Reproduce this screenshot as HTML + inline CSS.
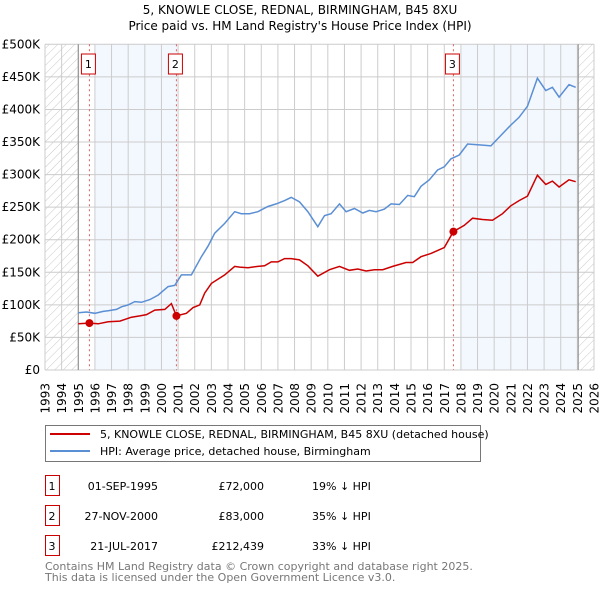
<!DOCTYPE html>
<html><head><meta charset="utf-8"><style>
body{margin:0;background:#fff;font-family:"DejaVu Sans","Liberation Sans",sans-serif;}
svg text{font-family:"DejaVu Sans","Liberation Sans",sans-serif;}
</style></head><body>
<svg id="chart" width="600" height="590" xmlns="http://www.w3.org/2000/svg">
<defs><pattern id="hatch" width="6" height="6" patternUnits="userSpaceOnUse" patternTransform="rotate(45)"><line x1="0" y1="0" x2="0" y2="6" stroke="#bbb" stroke-width="0.8"/></pattern></defs>
<text x="300" y="14" text-anchor="middle" font-size="12">5, KNOWLE CLOSE, REDNAL, BIRMINGHAM, B45 8XU</text>
<text x="300" y="30" text-anchor="middle" font-size="12">Price paid vs. HM Land Registry's House Price Index (HPI)</text>
<g id="grid"></g><g id="series"></g><g id="axes"></g>
<g>
<rect x="45.5" y="425.5" width="435" height="36" fill="#fff" stroke="#777"/>
<line x1="50" y1="434" x2="90" y2="434" stroke="#cc0000" stroke-width="2"/>
<text x="100" y="438" font-size="11">5, KNOWLE CLOSE, REDNAL, BIRMINGHAM, B45 8XU (detached house)</text>
<line x1="50" y1="451" x2="90" y2="451" stroke="#5b8fd4" stroke-width="2"/>
<text x="100" y="455" font-size="11">HPI: Average price, detached house, Birmingham</text>
</g>
<g id="table" font-size="11"></g>
<text fill="#777" font-size="11"><tspan x="45" y="570">Contains HM Land Registry data © Crown copyright and database right 2025.</tspan><tspan x="45" y="581">This data is licensed under the Open Government Licence v3.0.</tspan></text>
</svg>
<script>
const hpiYears=[1995,1995.5,1996,1996.5,1996.8,1997.3,1997.6,1998,1998.4,1998.8,1999.3,1999.8,2000.4,2000.8,2001.2,2001.8,2002.4,2002.8,2003.2,2003.8,2004.4,2004.8,2005.3,2005.8,2006.4,2006.9,2007.4,2007.8,2008.3,2008.8,2009.4,2009.8,2010.2,2010.7,2011.1,2011.6,2012.1,2012.5,2012.9,2013.4,2013.8,2014.3,2014.8,2015.2,2015.6,2016.1,2016.6,2017.0,2017.4,2017.9,2018.4,2018.9,2019.4,2019.8,2020.4,2021.0,2021.5,2022.0,2022.6,2023.1,2023.5,2023.9,2024.5,2024.9];
const hpiValues=[88,89,87,90,91,93,97,100,105,104,108,115,128,130,146,146,174,190,210,225,243,240,240,243,251,255,260,265,258,243,220,237,240,255,243,248,241,245,243,247,255,254,268,266,282,292,307,312,324,330,347,346,345,344,360,376,388,405,448,429,434,419,438,434];
const ppYears=[1995,1995.67,1996.2,1996.8,1997.5,1998.2,1998.7,1999.1,1999.6,2000.2,2000.6,2000.9,2001.5,2001.9,2002.3,2002.6,2003.0,2003.8,2004.4,2004.7,2005.2,2005.8,2006.2,2006.6,2007.0,2007.4,2007.8,2008.3,2008.8,2009.4,2010.1,2010.7,2011.3,2011.8,2012.3,2012.8,2013.3,2013.9,2014.7,2015.1,2015.6,2016.2,2017.0,2017.55,2018.2,2018.7,2019.3,2019.9,2020.5,2021.0,2021.5,2022.0,2022.6,2023.1,2023.5,2023.9,2024.5,2024.9];
const ppValues=[71,72,71,74,75,81,83,85,92,93,102,83,87,96,100,118,133,146,159,158,157,159,160,166,166,171,171,169,160,144,154,159,153,155,152,154,154,159,165,165,174,179,188,212.4,222,233,231,230,240,252,260,267,299,285,290,281,292,289];
const yTicks=[0,50,100,150,200,250,300,350,400,450,500];
const yTickLabels=["£0","£50K","£100K","£150K","£200K","£250K","£300K","£350K","£400K","£450K","£500K"];
const saleYears=[1995.67,2000.9,2017.55];
const saleValues=[72,83,212.439];
const saleLabels=["1","2","3"];
const saleDates=["01-SEP-1995","27-NOV-2000","21-JUL-2017"];
const salePrices=["£72,000","£83,000","£212,439"];
const saleDiffs=["19% ↓ HPI","35% ↓ HPI","33% ↓ HPI"];
const X0=45,X1=594,Y0=370,Y1=44.3;
const xs=y=>X0+(y-1993)/(2026-1993)*(X1-X0);
const ys=v=>Y0-(v/500)*(Y0-Y1);
const NS="http://www.w3.org/2000/svg";
function mk(parent,tag,attrs){const e=document.createElementNS(NS,tag);for(const k in attrs)e.setAttribute(k,attrs[k]);document.getElementById(parent).appendChild(e);return e;}
let b=mk('grid','rect',{x:xs(1996),y:Y1,width:xs(2001)-xs(1996),height:Y0-Y1,fill:'#eef3fd',opacity:0.7});


b=mk('grid','rect',{x:xs(2018),y:Y1,width:xs(2025)-xs(2018),height:Y0-Y1,fill:'#eef3fd',opacity:0.7});


b=mk('grid','rect',{x:X0,y:Y1,width:xs(1995)-X0,height:Y0-Y1,fill:'url(#hatch)'});


b=mk('grid','rect',{x:xs(2025.05),y:Y1,width:X1-xs(2025.05),height:Y0-Y1,fill:'url(#hatch)'});


for(let yr=1993;yr<=2026;yr++){
 const l=mk('grid','line',{x1:xs(yr),x2:xs(yr),y1:Y1,y2:Y0,stroke:'#ccc','stroke-width':1});
 
 
 const t=mk('axes','text',{x:0,y:0,'font-size':12,'text-anchor':'end',transform:`translate(${xs(yr)+4.5},${Y0+13}) rotate(-90)`});
 t.textContent=yr;
 
 
}
yTicks.forEach((v,i)=>{
 const l=mk('grid','line',{x1:X0,x2:X1,y1:ys(v),y2:ys(v),stroke:'#ccc','stroke-width':1});
 
 
 const t=mk('axes','text',{x:X0-5,y:ys(v)+4,'font-size':12,'text-anchor':'end'});
 t.textContent=yTickLabels[i];
 
 
});
let vl=mk('grid','line',{x1:xs(1995),x2:xs(1995),y1:Y1,y2:Y0,stroke:'#888'});


vl=mk('grid','line',{x1:xs(2025.05),x2:xs(2025.05),y1:Y1,y2:Y0,stroke:'#888'});


saleYears.forEach((yr,i)=>{
 const l=mk('grid','line',{x1:xs(yr),x2:xs(yr),y1:Y1,y2:Y0,stroke:'#e06060','stroke-dasharray':'2,3'});
 
 
});
const path=(X,V)=>X.map((y,i)=>(i?'L':'M')+xs(y).toFixed(1)+','+ys(V[i]).toFixed(1)).join('');
let p=mk('series','path',{d:path(hpiYears,hpiValues),fill:'none',stroke:'#5b8fd4','stroke-width':1.5});


p=mk('series','path',{d:path(ppYears,ppValues),fill:'none',stroke:'#cc0000','stroke-width':1.5});


saleYears.forEach((yr,i)=>{
 const c=mk('series','circle',{cx:xs(yr),cy:ys(saleValues[i]),r:4,fill:'#cc0000'});
 
 
 const r=mk('series','rect',{x:xs(yr)-8,y:54,width:14,height:20,fill:'#fff',stroke:'#cc0000'});
 
 
 const t=mk('series','text',{x:xs(yr)-1,y:68,'font-size':11,'text-anchor':'middle'});
 t.textContent=saleLabels[i];
 
 
 const ry=476+i*30;
 const tb=mk('table','rect',{x:45.5,y:ry-0.5,width:14,height:20,fill:'#fff',stroke:'#cc0000'});
 
 
 const cells=[[52,'middle',saleLabels[i]],[158,'end',saleDates[i]],[264,'end',salePrices[i]],[312,'start',saleDiffs[i]]];
 const names=['table-number','table-date','table-price','table-hpi-diff'];
 cells.forEach((c,j)=>{
  const tt=mk('table','text',{x:c[0],y:ry+14,'text-anchor':c[1]});
  tt.textContent=c[2];
  
  
 });
});
</script>
</body></html>
